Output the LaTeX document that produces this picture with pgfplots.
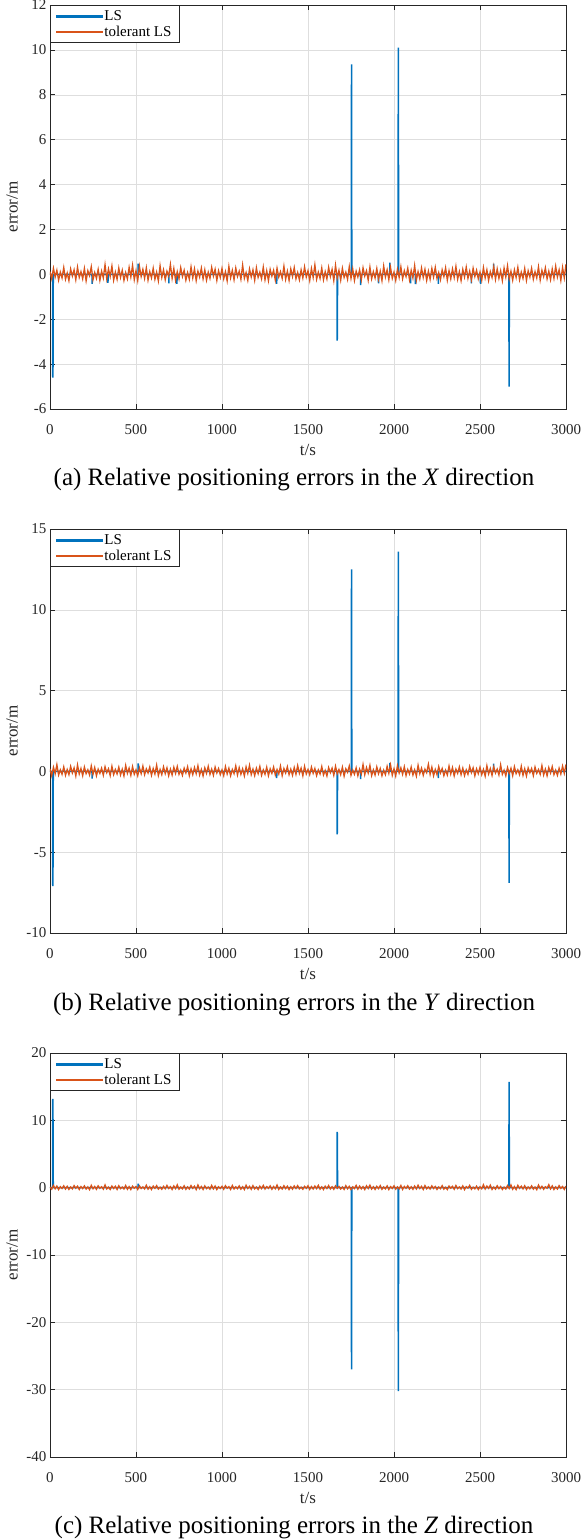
\documentclass[border=0pt]{standalone}
\usepackage{pgfplots}
\usepackage{pgfplotstable}
\pgfplotsset{compat=1.18}
\usepackage{fontspec}
\setmainfont{Liberation Serif}
\definecolor{mblue}{rgb}{0,0.447,0.741}
\definecolor{morange}{rgb}{0.85,0.325,0.098}
\definecolor{maxis}{rgb}{0.15,0.15,0.15}

\pgfplotstableread{
t x y z
0 0.12 0.16 0.08
10 -0.20 -0.27 -0.22
20 0.27 0.26 0.33
30 -0.12 -0.14 -0.16
40 0.18 0.42 0.24
50 -0.26 -0.22 -0.28
60 0.10 0.10 0.14
70 -0.16 -0.18 -0.12
80 0.30 0.28 0.28
90 -0.22 -0.24 -0.20
100 0.06 0.12 0.20
110 -0.28 -0.20 -0.26
120 0.24 0.31 0.10
130 -0.08 -0.10 -0.18
140 0.20 0.22 0.31
150 -0.24 -0.28 -0.08
160 0.32 0.40 0.22
170 -0.14 -0.16 -0.27
180 0.12 0.18 0.16
190 -0.20 -0.26 -0.14
200 0.26 0.27 0.26
210 -0.29 -0.14 -0.20
220 0.16 0.10 0.12
230 -0.06 -0.22 -0.29
240 0.34 0.34 0.35
250 -0.24 -0.18 -0.16
260 0.08 0.24 0.18
270 -0.18 -0.27 -0.24
280 0.22 0.14 0.28
290 -0.27 -0.12 -0.10
300 0.14 0.20 0.14
310 -0.16 -0.24 -0.22
320 0.43 0.29 0.41
330 -0.20 -0.08 -0.18
340 0.24 0.16 0.08
350 -0.10 -0.26 -0.27
360 0.37 0.32 0.24
370 -0.26 -0.20 -0.12
380 0.10 0.12 0.20
390 -0.22 -0.16 -0.26
400 0.28 0.26 0.29
410 -0.14 -0.22 -0.14
420 0.18 0.14 0.10
430 -0.27 -0.28 -0.20
440 0.08 0.37 0.32
450 -0.20 -0.12 -0.24
460 0.31 0.20 0.16
470 -0.12 -0.24 -0.28
480 0.40 0.30 0.22
490 -0.24 -0.18 -0.08
500 0.16 0.10 0.18
510 -0.28 -0.27 -0.26
520 0.35 0.22 0.27
530 -0.10 -0.14 -0.12
540 0.22 0.33 0.12
550 -0.18 -0.20 -0.18
560 0.29 0.16 0.36
570 -0.26 -0.10 -0.22
580 0.12 0.27 0.14
590 -0.16 -0.24 -0.27
600 0.27 0.18 0.24
610 -0.22 -0.16 -0.10
620 0.10 0.39 0.30
630 -0.29 -0.26 -0.20
640 0.38 0.12 0.08
650 -0.14 -0.20 -0.24
660 0.20 0.28 0.20
670 -0.24 -0.14 -0.16
680 0.14 0.22 0.33
690 -0.08 -0.27 -0.12
700 0.44 0.14 0.16
710 -0.18 -0.22 -0.27
720 0.26 0.26 0.26
730 -0.27 -0.12 -0.14
740 0.12 0.31 0.42
750 -0.20 -0.18 -0.22
760 0.30 0.08 0.10
770 -0.10 -0.24 -0.18
780 0.18 0.20 0.28
790 -0.26 -0.10 -0.24
800 0.08 0.29 0.12
810 -0.22 -0.26 -0.20
820 0.33 0.16 0.31
830 -0.16 -0.20 -0.10
840 0.24 0.24 0.22
850 -0.28 -0.14 -0.28
860 0.14 0.35 0.40
870 -0.12 -0.22 -0.16
880 0.28 0.12 0.18
890 -0.20 -0.28 -0.26
900 0.20 0.22 0.27
910 -0.26 -0.12 -0.14
920 0.10 0.32 0.10
930 -0.18 -0.18 -0.22
940 0.31 0.14 0.34
950 -0.08 -0.24 -0.18
960 0.22 0.27 0.24
970 -0.27 -0.10 -0.27
980 0.16 0.18 0.14
990 -0.14 -0.20 -0.12
1000 0.26 0.10 0.20
1010 -0.20 -0.26 -0.24
1020 0.12 0.30 0.29
1030 -0.29 -0.16 -0.08
1040 0.35 0.20 0.16
1050 -0.16 -0.27 -0.26
1060 0.18 0.12 0.32
1070 -0.24 -0.14 -0.20
1080 0.28 0.34 0.12
1090 -0.10 -0.22 -0.16
1100 0.14 0.24 0.26
1110 -0.22 -0.18 -0.22
1120 0.41 0.16 0.14
1130 -0.18 -0.28 -0.28
1140 0.08 0.28 0.37
1150 -0.27 -0.12 -0.12
1160 0.24 0.38 0.20
1170 -0.12 -0.20 -0.24
1180 0.20 0.14 0.30
1190 -0.26 -0.26 -0.18
1200 0.29 0.20 0.10
1210 -0.14 -0.14 -0.27
1220 0.10 0.31 0.22
1230 -0.20 -0.24 -0.14
1240 0.32 0.10 0.33
1250 -0.24 -0.18 -0.20
1260 0.16 0.26 0.16
1270 -0.28 -0.27 -0.10
1280 0.22 0.16 0.27
1290 -0.08 -0.12 -0.24
1300 0.18 0.27 0.18
1310 -0.26 -0.22 -0.16
1320 0.27 0.12 0.39
1330 -0.12 -0.16 -0.26
1340 0.12 0.33 0.12
1350 -0.18 -0.26 -0.20
1360 0.36 0.18 0.28
1370 -0.22 -0.10 -0.14
1380 0.14 0.29 0.22
1390 -0.27 -0.20 -0.27
1400 0.24 0.14 0.14
1410 -0.10 -0.24 -0.22
1420 0.30 0.24 0.26
1430 -0.20 -0.18 -0.12
1440 0.08 0.36 0.31
1450 -0.24 -0.12 -0.18
1460 0.20 0.20 0.08
1470 -0.16 -0.27 -0.24
1480 0.33 0.31 0.20
1490 -0.12 -0.16 -0.10
1500 0.16 0.12 0.29
1510 -0.27 -0.20 -0.26
1520 0.26 0.27 0.16
1530 -0.14 -0.12 -0.20
1540 0.42 0.18 0.24
1550 -0.22 -0.26 -0.14
1560 0.10 0.10 0.35
1570 -0.18 -0.16 -0.22
1580 0.28 0.30 0.12
1590 -0.24 -0.22 -0.28
1600 0.12 0.06 0.22
1610 -0.20 -0.28 -0.12
1620 0.31 0.24 0.32
1630 -0.10 -0.08 -0.18
1640 0.22 0.20 0.14
1650 -0.28 -0.24 -0.24
1660 0.40 0.32 0.27
1670 -0.16 -0.14 -0.10
1680 0.18 0.12 0.18
1690 -0.26 -0.20 -0.20
1700 0.27 0.26 0.10
1710 -0.14 -0.29 -0.26
1720 0.10 0.16 0.30
1730 -0.22 -0.06 -0.16
1740 0.34 0.34 0.20
1750 -0.18 -0.24 -0.27
1760 0.24 0.08 0.12
1770 -0.27 -0.18 -0.14
1780 0.14 0.22 0.34
1790 -0.12 -0.27 -0.22
1800 0.20 0.14 0.24
1810 -0.24 -0.16 -0.18
1820 0.29 0.43 0.16
1830 -0.08 -0.20 -0.28
1840 0.16 0.24 0.28
1850 -0.26 -0.10 -0.12
1860 0.32 0.37 0.38
1870 -0.20 -0.26 -0.20
1880 0.12 0.10 0.14
1890 -0.16 -0.22 -0.26
1900 0.26 0.28 0.20
1910 -0.22 -0.14 -0.14
1920 0.14 0.18 0.31
1930 -0.28 -0.27 -0.24
1940 0.37 0.08 0.10
1950 -0.12 -0.20 -0.18
1960 0.20 0.31 0.26
1970 -0.24 -0.12 -0.27
1980 0.30 0.40 0.16
1990 -0.18 -0.24 -0.12
2000 0.10 0.16 0.27
2010 -0.27 -0.28 -0.22
2020 0.22 0.35 0.12
2030 -0.14 -0.10 -0.16
2040 0.33 0.22 0.33
2050 -0.20 -0.18 -0.26
2060 0.16 0.29 0.18
2070 -0.10 -0.26 -0.10
2080 0.27 0.12 0.29
2090 -0.24 -0.16 -0.20
2100 0.18 0.27 0.14
2110 -0.16 -0.22 -0.24
2120 0.39 0.10 0.24
2130 -0.26 -0.29 -0.18
2140 0.12 0.38 0.36
2150 -0.20 -0.14 -0.12
2160 0.28 0.20 0.20
2170 -0.14 -0.24 -0.27
2180 0.22 0.14 0.31
2190 -0.27 -0.08 -0.16
2200 0.14 0.44 0.12
2210 -0.22 -0.18 -0.20
2220 0.26 0.26 0.27
2230 -0.12 -0.27 -0.12
2240 0.31 0.12 0.18
2250 -0.18 -0.20 -0.26
2260 0.08 0.30 0.10
2270 -0.24 -0.10 -0.16
2280 0.20 0.18 0.30
2290 -0.10 -0.26 -0.22
2300 0.29 0.08 0.06
2310 -0.26 -0.22 -0.28
2320 0.16 0.33 0.24
2330 -0.20 -0.16 -0.08
2340 0.24 0.24 0.20
2350 -0.14 -0.28 -0.24
2360 0.35 0.14 0.32
2370 -0.22 -0.12 -0.14
2380 0.12 0.28 0.12
2390 -0.28 -0.20 -0.20
2400 0.22 0.20 0.26
2410 -0.12 -0.26 -0.29
2420 0.32 0.10 0.16
2430 -0.18 -0.18 -0.06
2440 0.14 0.31 0.34
2450 -0.24 -0.08 -0.24
2460 0.27 0.22 0.08
2470 -0.10 -0.27 -0.18
2480 0.18 0.16 0.22
2490 -0.20 -0.14 -0.27
2500 0.10 0.26 0.14
2510 -0.26 -0.20 -0.16
2520 0.30 0.12 0.43
2530 -0.16 -0.29 -0.20
2540 0.20 0.35 0.24
2550 -0.27 -0.16 -0.10
2560 0.12 0.18 0.37
2570 -0.14 -0.24 -0.26
2580 0.34 0.28 0.10
2590 -0.22 -0.10 -0.22
2600 0.24 0.14 0.28
2610 -0.18 -0.22 -0.14
2620 0.16 0.41 0.18
2630 -0.28 -0.18 -0.27
2640 0.28 0.08 0.08
2650 -0.12 -0.27 -0.20
2660 0.38 0.24 0.31
2670 -0.20 -0.12 -0.12
2680 0.14 0.20 0.40
2690 -0.26 -0.26 -0.24
2700 0.20 0.29 0.16
2710 -0.14 -0.14 -0.28
2720 0.31 0.10 0.35
2730 -0.24 -0.20 -0.10
2740 0.10 0.32 0.22
2750 -0.18 -0.24 -0.18
2760 0.26 0.16 0.29
2770 -0.27 -0.28 -0.26
2780 0.16 0.22 0.12
2790 -0.12 -0.08 -0.16
2800 0.27 0.18 0.27
2810 -0.22 -0.26 -0.22
2820 0.12 0.27 0.10
2830 -0.16 -0.12 -0.29
2840 0.33 0.12 0.38
2850 -0.26 -0.18 -0.14
2860 0.18 0.36 0.20
2870 -0.10 -0.22 -0.24
2880 0.29 0.14 0.14
2890 -0.20 -0.27 -0.08
2900 0.14 0.24 0.44
2910 -0.24 -0.10 -0.18
2920 0.24 0.30 0.26
2930 -0.18 -0.20 -0.27
2940 0.36 0.08 0.12
2950 -0.12 -0.24 -0.20
2960 0.20 0.20 0.30
2970 -0.27 -0.16 -0.10
2980 0.31 0.33 0.18
2990 -0.16 -0.12 -0.26
3000 0.45 0.43 0.24
}\noisetable

\pgfplotsset{
  errstyle/.style={
    scale only axis,
    width=516pt, height=404pt,
    anchor=north west,
    xmin=0, xmax=3000,
    xtick={0,500,...,3000},
    grid=major,
    grid style={line width=0.5pt, color=black!13},
    axis line style={line width=0.6pt, color=maxis},
    major tick style={line width=0.6pt, color=maxis},
    major tick length=5pt,
    tick align=inside,
    tick label style={font=\fontsize{15}{17}\selectfont, text=black!85},
    xticklabel style={yshift=-12pt},
    /pgf/number format/assume math mode=true,
    /pgf/number format/1000 sep={},
    scaled ticks=false,
    xlabel={t/s},
    ylabel={error/m},
    label style={font=\fontsize{17}{19}\selectfont, text=black!85},
    xlabel style={at={(axis description cs:0.5,-0.1015)}, anchor=center},
    ylabel style={at={(axis description cs:-0.0736,0.5)}, anchor=center},
    legend style={at={(0,1)}, anchor=north west, draw=maxis, line width=0.6pt,
      fill=white, font=\fontsize{15}{17}\selectfont, inner xsep=5.5pt, inner ysep=3pt,
      row sep=0pt, cells={anchor=west}},
    legend cell align=left,
  },
  blueline/.style={color=mblue, line width=1.5pt},
  orangeline/.style={color=morange, line width=1.3pt},
  bluelegend/.style={legend image code/.code={\fill[mblue] (0pt,-0.8pt) rectangle (46pt,0.8pt);}},
  orangelegend/.style={legend image code/.code={\fill[morange] (0pt,-0.8pt) rectangle (46pt,0.8pt);}},
}

\begin{document}
\begin{tikzpicture}
\useasboundingbox (0pt,0pt) rectangle (582pt,-1540pt);

% ---------------- (a) X ----------------
\begin{axis}[errstyle, at={(50pt,-5pt)}, ymin=-6, ymax=12, ytick={-6,-4,...,12}]
\addlegendimage{bluelegend}
\addlegendentry{LS}
\addlegendimage{orangelegend}
\addlegendentry{tolerant LS}
\addplot[blueline, forget plot] coordinates {
(0,0) (15,0) (16,-4.6) (18,-3.95) (19,0)
(244,0) (245,-0.42) (246,0)
(336,0) (337,-0.38) (338,0)
(512,0) (513,0.48) (514,0)
(690,0) (691,-0.40) (692,0)
(737,0) (738,-0.42) (739,0)
(1317,0) (1318,-0.42) (1319,0)
(1669,0) (1670,-2.95) (1671,-1.9) (1672,0)
(1752,0) (1753,9.35) (1754,3.1) (1755,0)
(1805,0) (1806,-0.48) (1807,0)
(1909,0) (1910,-0.40) (1911,0)
(1975,0) (1976,0.52) (1977,0)
(2024,0) (2025,10.1) (2026,5.8) (2027,0)
(2095,0) (2096,-0.40) (2097,0)
(2124,0) (2125,-0.44) (2126,0)
(2257,0) (2258,-0.42) (2259,0)
(2449,0) (2450,-0.40) (2451,0)
(2502,0) (2503,-0.42) (2504,0)
(2578,0) (2579,0.48) (2580,0)
(2668,0) (2669,-5.0) (2670,-2.5) (2671,0)
(3000,0)};
\addplot[orangeline, forget plot] table[x=t, y=x] {\noisetable};
\end{axis}
\node[font=\fontsize{25}{29}\selectfont] at (294pt,-480pt) {(a) Relative positioning errors in the \textit{X} direction};

% ---------------- (b) Y ----------------
\begin{axis}[errstyle, at={(50pt,-529pt)}, ymin=-10, ymax=15, ytick={-10,-5,...,15}]
\addlegendimage{bluelegend}
\addlegendentry{LS}
\addlegendimage{orangelegend}
\addlegendentry{tolerant LS}
\addplot[blueline, forget plot] coordinates {
(0,0) (15,0) (16,-7.1) (18,-5.5) (19,0)
(244,0) (245,-0.45) (246,0)
(512,0) (513,0.50) (514,0)
(1317,0) (1318,-0.42) (1319,0)
(1669,0) (1670,-3.9) (1671,-2.4) (1672,0)
(1752,0) (1753,12.5) (1754,4.1) (1755,0)
(1805,0) (1806,-0.48) (1807,0)
(1975,0) (1976,0.52) (1977,0)
(2024,0) (2025,13.6) (2026,7.8) (2027,0)
(2257,0) (2258,-0.42) (2259,0)
(2578,0) (2579,0.48) (2580,0)
(2668,0) (2669,-6.9) (2670,-3.5) (2671,0)
(3000,0)};
\addplot[orangeline, forget plot] table[x=t, y=y] {\noisetable};
\end{axis}
\node[font=\fontsize{25}{29}\selectfont] at (294pt,-1005pt) {(b) Relative positioning errors in the \textit{Y} direction};

% ---------------- (c) Z ----------------
\begin{axis}[errstyle, at={(50pt,-1053pt)}, ymin=-40, ymax=20, ytick={-40,-30,...,20}]
\addlegendimage{bluelegend}
\addlegendentry{LS}
\addlegendimage{orangelegend}
\addlegendentry{tolerant LS}
\addplot[blueline, forget plot] coordinates {
(0,0) (15,0) (16,13.2) (18,9.0) (19,0)
(512,0) (513,0.6) (514,0)
(1669,0) (1670,8.3) (1671,5.2) (1672,0)
(1752,0) (1753,-27.0) (1754,-10.0) (1755,0)
(2024,0) (2025,-30.2) (2026,-17.0) (2027,0)
(2668,0) (2669,15.7) (2670,8.0) (2671,0)
(3000,0)};
\addplot[orangeline, forget plot] table[x=t, y=z] {\noisetable};
\end{axis}
\node[font=\fontsize{25}{29}\selectfont] at (294pt,-1528pt) {(c) Relative positioning errors in the \textit{Z} direction};
\end{tikzpicture}
\end{document}
